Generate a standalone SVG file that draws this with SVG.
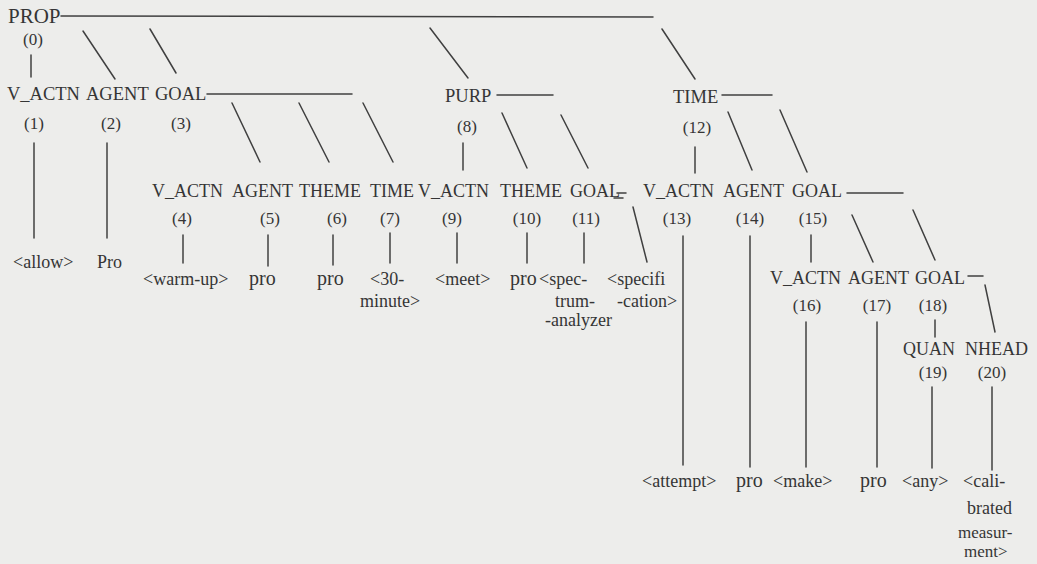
<svg xmlns="http://www.w3.org/2000/svg" width="1037" height="564" viewBox="0 0 1037 564">
<style>
text{fill:#353535}
.r{font-size:18.5px}
.q{font-size:18px}
.p{font-size:21px}
.n{font-size:17px;text-anchor:middle}
.l{font-size:18px}
.s{font-size:17px}
.b{font-size:20px}
#connectors line{stroke:#404040;stroke-width:1.5;stroke-linecap:round}
</style>
<rect width="1037" height="564" fill="#ededeb"/>
<g id="connectors">
<line x1="61" y1="16" x2="653" y2="17"/>
<line x1="31" y1="55" x2="31" y2="77"/>
<line x1="83" y1="31" x2="115" y2="79"/>
<line x1="150" y1="29" x2="176" y2="73"/>
<line x1="430" y1="28" x2="468" y2="78"/>
<line x1="662" y1="29" x2="695" y2="79"/>
<line x1="207" y1="94" x2="352" y2="94"/>
<line x1="34" y1="143" x2="34" y2="238"/>
<line x1="107" y1="143" x2="107" y2="238"/>
<line x1="232" y1="103" x2="260" y2="162"/>
<line x1="299" y1="103" x2="329" y2="162"/>
<line x1="363" y1="103" x2="393" y2="162"/>
<line x1="497" y1="95" x2="553" y2="95"/>
<line x1="463" y1="143" x2="463" y2="170"/>
<line x1="502" y1="113" x2="527" y2="168"/>
<line x1="561" y1="115" x2="588" y2="168"/>
<line x1="722" y1="95" x2="772" y2="95"/>
<line x1="695" y1="147" x2="695" y2="173"/>
<line x1="728" y1="112" x2="752" y2="170"/>
<line x1="780" y1="110" x2="807" y2="172"/>
<line x1="183" y1="235" x2="183" y2="263"/>
<line x1="268" y1="235" x2="268" y2="266"/>
<line x1="333" y1="235" x2="333" y2="265"/>
<line x1="390" y1="233" x2="390" y2="263"/>
<line x1="457" y1="233" x2="457" y2="263"/>
<line x1="527" y1="233" x2="527" y2="263"/>
<line x1="584" y1="233" x2="584" y2="263"/>
<line x1="617" y1="193" x2="626" y2="193"/>
<line x1="614" y1="198" x2="623" y2="198"/>
<line x1="633" y1="207" x2="647" y2="262"/>
<line x1="683" y1="236" x2="683" y2="465"/>
<line x1="750" y1="236" x2="750" y2="467"/>
<line x1="811" y1="235" x2="811" y2="262"/>
<line x1="847" y1="193" x2="903" y2="193"/>
<line x1="852" y1="215" x2="873" y2="262"/>
<line x1="913" y1="210" x2="935" y2="260"/>
<line x1="968" y1="276" x2="983" y2="276"/>
<line x1="806" y1="322" x2="806" y2="467"/>
<line x1="877" y1="322" x2="877" y2="467"/>
<line x1="935" y1="320" x2="935" y2="337"/>
<line x1="985" y1="285" x2="995" y2="332"/>
<line x1="932" y1="387" x2="932" y2="468"/>
<line x1="992" y1="387" x2="992" y2="470"/>
</g>
<g font-family="'Liberation Serif', 'DejaVu Serif', serif">
<g id="n0"><text class="p" x="8" y="23">PROP</text><text class="n" x="33" y="45">(0)</text></g>
<g id="n1"><text class="r" x="7" y="100">V_ACTN</text><text class="n" x="34" y="129">(1)</text><text class="l" x="13" y="268">&lt;allow&gt;</text></g>
<g id="n2"><text class="r" x="86" y="100">AGENT</text><text class="n" x="111" y="129">(2)</text><text class="l" x="97" y="268">Pro</text></g>
<g id="n3"><text class="r" x="155" y="100">GOAL</text><text class="n" x="181" y="129">(3)</text></g>
<g id="n4"><text class="q" x="152" y="197">V_ACTN</text><text class="n" x="182" y="224">(4)</text><text class="l" x="143" y="285">&lt;warm-up&gt;</text></g>
<g id="n5"><text class="q" x="232" y="197">AGENT</text><text class="n" x="270" y="224">(5)</text><text class="b" x="249" y="285">pro</text></g>
<g id="n6"><text class="q" x="299" y="197">THEME</text><text class="n" x="337" y="224">(6)</text><text class="b" x="317" y="285">pro</text></g>
<g id="n7"><text class="q" x="370" y="197">TIME</text><text class="n" x="390" y="224">(7)</text><text class="l" x="370" y="285">&lt;30-</text><text class="l" x="360" y="307">minute&gt;</text></g>
<g id="n8"><text class="r" x="445" y="102">PURP</text><text class="n" x="467" y="132">(8)</text></g>
<g id="n9"><text class="q" x="418" y="197">V_ACTN</text><text class="n" x="452" y="224">(9)</text><text class="l" x="435" y="285">&lt;meet&gt;</text></g>
<g id="n10"><text class="q" x="500" y="197">THEME</text><text class="n" x="527" y="224">(10)</text><text class="b" x="510" y="285">pro</text></g>
<g id="n11"><text class="q" x="570" y="197">GOAL</text><text class="n" x="586" y="224">(11)</text><text class="l" x="539" y="285">&lt;spec-</text><text class="l" x="555" y="307">trum-</text><text class="l" x="545" y="326">-analyzer</text><text class="l" x="607" y="285">&lt;specifi</text><text class="l" x="617" y="307">-cation&gt;</text></g>
<g id="n12"><text class="r" x="673" y="103">TIME</text><text class="n" x="697" y="133">(12)</text></g>
<g id="n13"><text class="q" x="643" y="197">V_ACTN</text><text class="n" x="677" y="224">(13)</text><text class="l" x="642" y="487">&lt;attempt&gt;</text></g>
<g id="n14"><text class="q" x="723" y="197">AGENT</text><text class="n" x="750" y="224">(14)</text><text class="b" x="736" y="487">pro</text></g>
<g id="n15"><text class="q" x="792" y="197">GOAL</text><text class="n" x="813" y="224">(15)</text></g>
<g id="n16"><text class="q" x="770" y="284">V_ACTN</text><text class="n" x="807" y="311">(16)</text><text class="l" x="773" y="487">&lt;make&gt;</text></g>
<g id="n17"><text class="q" x="848" y="284">AGENT</text><text class="n" x="877" y="311">(17)</text><text class="b" x="860" y="487">pro</text></g>
<g id="n18"><text class="q" x="915" y="284">GOAL</text><text class="n" x="933" y="311">(18)</text></g>
<g id="n19"><text class="q" x="903" y="355">QUAN</text><text class="n" x="933" y="378">(19)</text><text class="l" x="902" y="487">&lt;any&gt;</text></g>
<g id="n20"><text class="q" x="965" y="355">NHEAD</text><text class="n" x="992" y="378">(20)</text><text class="l" x="963" y="487">&lt;cali-</text><text class="l" x="967" y="514">brated</text><text class="s" x="958" y="538">measur-</text><text class="s" x="964" y="557">ment&gt;</text></g>
</g>
</svg>
